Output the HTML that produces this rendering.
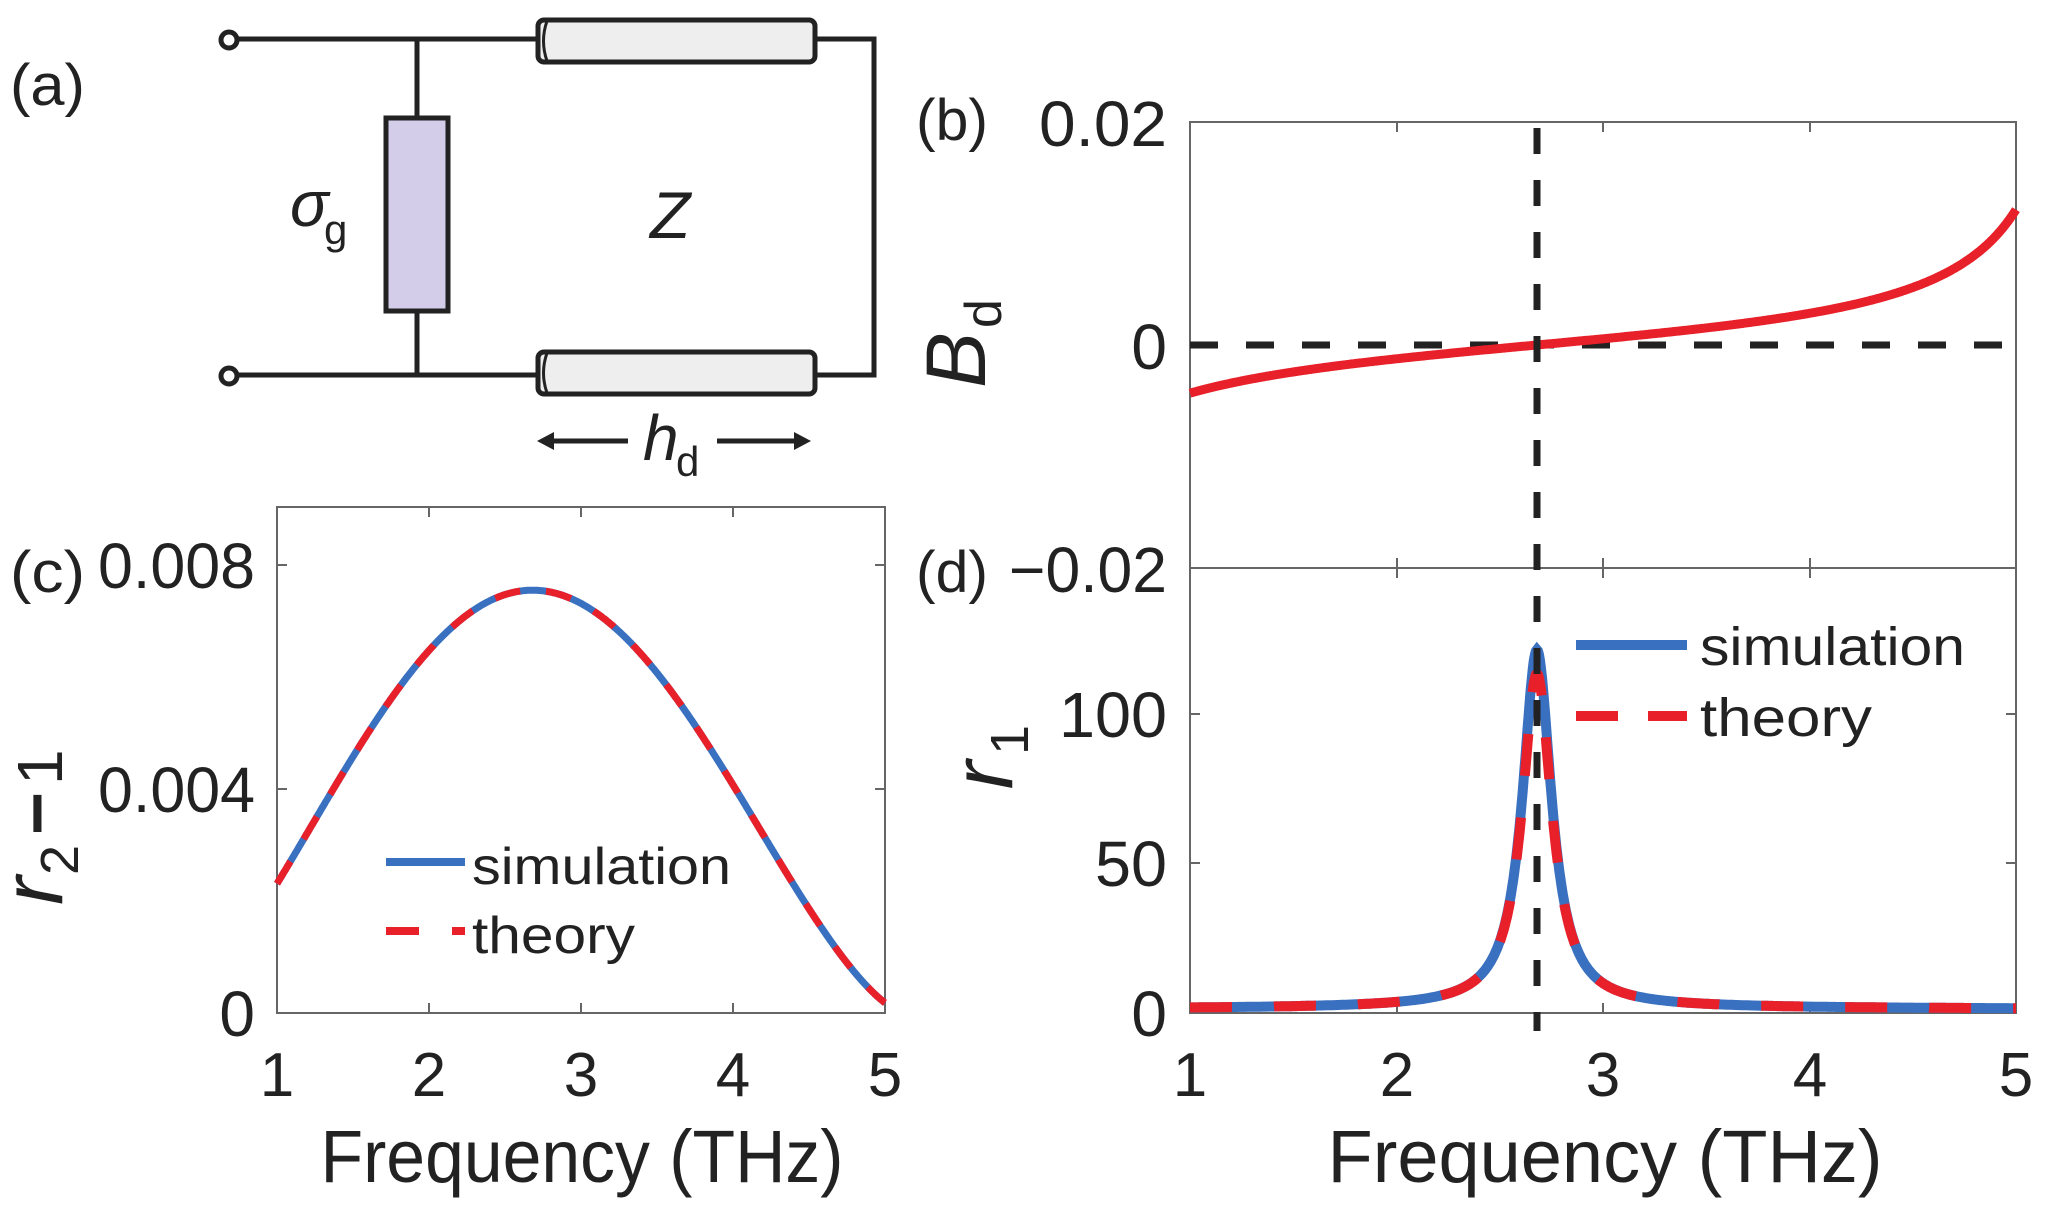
<!DOCTYPE html>
<html><head><meta charset="utf-8"><style>
html,body{margin:0;padding:0;background:#fff;}
svg{display:block;}
text{font-family:"Liberation Sans",sans-serif;fill:#222;}
</style></head><body>
<svg id="s" width="2052" height="1218" viewBox="0 0 2052 1218" xmlns="http://www.w3.org/2000/svg">
<!-- Panel (a) circuit -->
<text x="10" y="105" font-size="58" textLength="75" lengthAdjust="spacingAndGlyphs">(a)</text>
<g stroke="#222" stroke-width="5" fill="none">
<line x1="236" y1="39" x2="537" y2="39"/>
<line x1="236" y1="375" x2="537" y2="375"/>
<line x1="417" y1="39" x2="417" y2="117"/>
<line x1="417" y1="311" x2="417" y2="375"/>
<polyline points="815,39 874,39 874,375 815,375"/>
</g>
<circle cx="229" cy="40" r="8" fill="#fff" stroke="#222" stroke-width="5"/>
<circle cx="229" cy="376" r="8" fill="#fff" stroke="#222" stroke-width="5"/>
<rect x="386" y="118" width="62" height="193" fill="#d3cde9" stroke="#222" stroke-width="5"/>
<rect x="538" y="20" width="277" height="42" rx="6" fill="#eeeeee" stroke="#222" stroke-width="5"/>
<path d="M547,21 Q540,41 547,61" stroke="#222" stroke-width="3" fill="none"/>
<rect x="538" y="352" width="277" height="42" rx="6" fill="#eeeeee" stroke="#222" stroke-width="5"/>
<path d="M547,353 Q540,373 547,393" stroke="#222" stroke-width="3" fill="none"/>
<text x="290" y="226" font-size="64" font-style="italic" font-family="Liberation Serif">σ</text>
<text x="324" y="244" font-size="42">g</text>
<text x="650" y="238" font-size="66" font-style="italic">Z</text>
<line x1="548" y1="441" x2="628" y2="441" stroke="#222" stroke-width="5"/>
<polygon points="537,441 554,432 554,450" fill="#222"/>
<line x1="717" y1="441" x2="800" y2="441" stroke="#222" stroke-width="5"/>
<polygon points="811,441 794,432 794,450" fill="#222"/>
<text x="643" y="460" font-size="64" font-style="italic">h</text>
<text x="676" y="476" font-size="42">d</text>

<!-- Panel (b) -->
<text x="916" y="140" font-size="58" textLength="72" lengthAdjust="spacingAndGlyphs">(b)</text>
<rect x="1190" y="122" width="826" height="446" fill="none" stroke="#666" stroke-width="2"/>
<g stroke="#666" stroke-width="2">
<line x1="1397" y1="122" x2="1397" y2="132"/><line x1="1603" y1="122" x2="1603" y2="132"/><line x1="1810" y1="122" x2="1810" y2="132"/>
<line x1="1397" y1="568" x2="1397" y2="558"/><line x1="1603" y1="568" x2="1603" y2="558"/><line x1="1810" y1="568" x2="1810" y2="558"/>
</g>
<text x="1167" y="146" font-size="64" text-anchor="end" textLength="128" lengthAdjust="spacingAndGlyphs">0.02</text>
<text x="1167" y="369" font-size="64" text-anchor="end">0</text>
<text x="1167" y="592" font-size="64" text-anchor="end" textLength="158" lengthAdjust="spacingAndGlyphs">−0.02</text>
<g transform="translate(985,348) rotate(-90)">
<text x="-12" y="0" font-size="84" font-style="italic" text-anchor="middle">B</text>
<text x="20" y="16" font-size="52">d</text>
</g>
<line x1="1190" y1="345" x2="2016" y2="345" stroke="#222" stroke-width="7" stroke-dasharray="28 28"/>
<path id="bd" fill="none" stroke="#e8202a" stroke-width="9"/>

<!-- Panel (d) -->
<text x="916" y="592" font-size="58" textLength="72" lengthAdjust="spacingAndGlyphs">(d)</text>
<rect x="1190" y="568" width="826" height="445" fill="none" stroke="#666" stroke-width="2"/>
<g stroke="#666" stroke-width="2">
<line x1="1397" y1="1013" x2="1397" y2="1003"/><line x1="1603" y1="1013" x2="1603" y2="1003"/><line x1="1810" y1="1013" x2="1810" y2="1003"/>
<line x1="1397" y1="568" x2="1397" y2="578"/><line x1="1603" y1="568" x2="1603" y2="578"/><line x1="1810" y1="568" x2="1810" y2="578"/>
<line x1="1190" y1="714" x2="1200" y2="714"/><line x1="1190" y1="863" x2="1200" y2="863"/>
<line x1="2016" y1="714" x2="2006" y2="714"/><line x1="2016" y1="863" x2="2006" y2="863"/>
</g>
<text x="1167" y="737" font-size="64" text-anchor="end" textLength="108" lengthAdjust="spacingAndGlyphs">100</text>
<text x="1167" y="886" font-size="64" text-anchor="end" textLength="72" lengthAdjust="spacingAndGlyphs">50</text>
<text x="1167" y="1036" font-size="64" text-anchor="end">0</text>
<g transform="translate(1012,775) rotate(-90)">
<text x="0" y="0" font-size="86" font-style="italic" text-anchor="middle">r</text>
<text x="20" y="16" font-size="54">1</text>
</g>
<path id="r1s" fill="none" stroke="#3a70c0" stroke-width="10"/>
<path id="r1t" fill="none" stroke="#e8202a" stroke-width="10" stroke-dasharray="42 42"/>
<line x1="1537" y1="128" x2="1537" y2="1031" stroke="#222" stroke-width="7" stroke-dasharray="26 26"/>
<line x1="1576" y1="645" x2="1687" y2="645" stroke="#3a70c0" stroke-width="10"/>
<line x1="1576" y1="716" x2="1687" y2="716" stroke="#e8202a" stroke-width="10" stroke-dasharray="42 30"/>
<text x="1700" y="665" font-size="54" textLength="265" lengthAdjust="spacingAndGlyphs">simulation</text>
<text x="1700" y="736" font-size="54" textLength="172" lengthAdjust="spacingAndGlyphs">theory</text>
<g font-size="62" text-anchor="middle">
<text x="1190" y="1096">1</text><text x="1397" y="1096">2</text><text x="1603" y="1096">3</text><text x="1810" y="1096">4</text><text x="2016" y="1096">5</text>
</g>
<text x="1605" y="1182" font-size="74" text-anchor="middle" textLength="555" lengthAdjust="spacingAndGlyphs">Frequency (THz)</text>

<!-- Panel (c) -->
<text x="10" y="592" font-size="58" textLength="75" lengthAdjust="spacingAndGlyphs">(c)</text>
<rect x="277" y="507" width="608" height="506" fill="none" stroke="#666" stroke-width="2"/>
<g stroke="#666" stroke-width="2">
<line x1="429" y1="1013" x2="429" y2="1003"/><line x1="581" y1="1013" x2="581" y2="1003"/><line x1="733" y1="1013" x2="733" y2="1003"/>
<line x1="429" y1="507" x2="429" y2="517"/><line x1="581" y1="507" x2="581" y2="517"/><line x1="733" y1="507" x2="733" y2="517"/>
<line x1="277" y1="565" x2="287" y2="565"/><line x1="277" y1="789" x2="287" y2="789"/>
<line x1="885" y1="565" x2="875" y2="565"/><line x1="885" y1="789" x2="875" y2="789"/>
</g>
<text x="255" y="588" font-size="64" text-anchor="end" textLength="157" lengthAdjust="spacingAndGlyphs">0.008</text>
<text x="255" y="812" font-size="64" text-anchor="end" textLength="157" lengthAdjust="spacingAndGlyphs">0.004</text>
<text x="255" y="1036" font-size="64" text-anchor="end">0</text>
<g transform="translate(62,825) rotate(-90)">
<text x="-80" y="0" font-size="86" font-style="italic">r</text>
<text x="-50" y="16" font-size="54">2</text>
<text x="-10" y="0" font-size="74" font-weight="bold">−</text>
<text x="40" y="0" font-size="64">1</text>
</g>
<path id="c2s" fill="none" stroke="#3a70c0" stroke-width="7"/>
<path id="c2t" fill="none" stroke="#e8202a" stroke-width="7" stroke-dasharray="26 26"/>
<line x1="386" y1="862" x2="465" y2="862" stroke="#3a70c0" stroke-width="8"/>
<line x1="386" y1="931" x2="465" y2="931" stroke="#e8202a" stroke-width="8" stroke-dasharray="33 33"/>
<text x="472" y="884" font-size="52" textLength="259" lengthAdjust="spacingAndGlyphs">simulation</text>
<text x="472" y="953" font-size="52" textLength="163" lengthAdjust="spacingAndGlyphs">theory</text>
<g font-size="62" text-anchor="middle">
<text x="277" y="1096">1</text><text x="429" y="1096">2</text><text x="581" y="1096">3</text><text x="733" y="1096">4</text><text x="885" y="1096">5</text>
</g>
<text x="582" y="1182" font-size="74" text-anchor="middle" textLength="523" lengthAdjust="spacingAndGlyphs">Frequency (THz)</text>
</svg>
<script>
function mk(fn,fx,fy){var d="";for(var i=0;i<=800;i++){var f=1+4*i/800;var X=fx(f),Y=fy(fn(f));d+=(i?"L":"M")+X.toFixed(1)+","+Y.toFixed(1);}return d;}
var fxd=function(f){return 1190+(f-1)*206.5;};
document.getElementById("bd").setAttribute("d",mk(function(f){return 0.00302*Math.tan(0.572*(f-2.68));},fxd,function(v){return 345-v*11150;}));
function lor(A,w){return function(f){var d=(f-2.68)/w;return 1+A/(1+d*d)+1.5/(1+Math.abs(f-2.68));};}
var fyd=function(v){return 1013-v*2.99;};
document.getElementById("r1s").setAttribute("d",mk(lor(119,0.085),fxd,fyd));
document.getElementById("r1t").setAttribute("d",mk(lor(111,0.088),fxd,fyd));
var fxc=function(f){return 277+(f-1)*152;};
function g(f){var d=Math.abs(f-2.68);var L=f<2.68?2.4:2.45;var c=Math.cos(Math.PI/2*Math.min(d/L,1));return 0.00755*Math.pow(Math.max(c,0),1.5);}
var fyc=function(v){return 1013-v*56000;};
document.getElementById("c2s").setAttribute("d",mk(g,fxc,fyc));
document.getElementById("c2t").setAttribute("d",mk(g,fxc,fyc));
</script>
</body></html>
